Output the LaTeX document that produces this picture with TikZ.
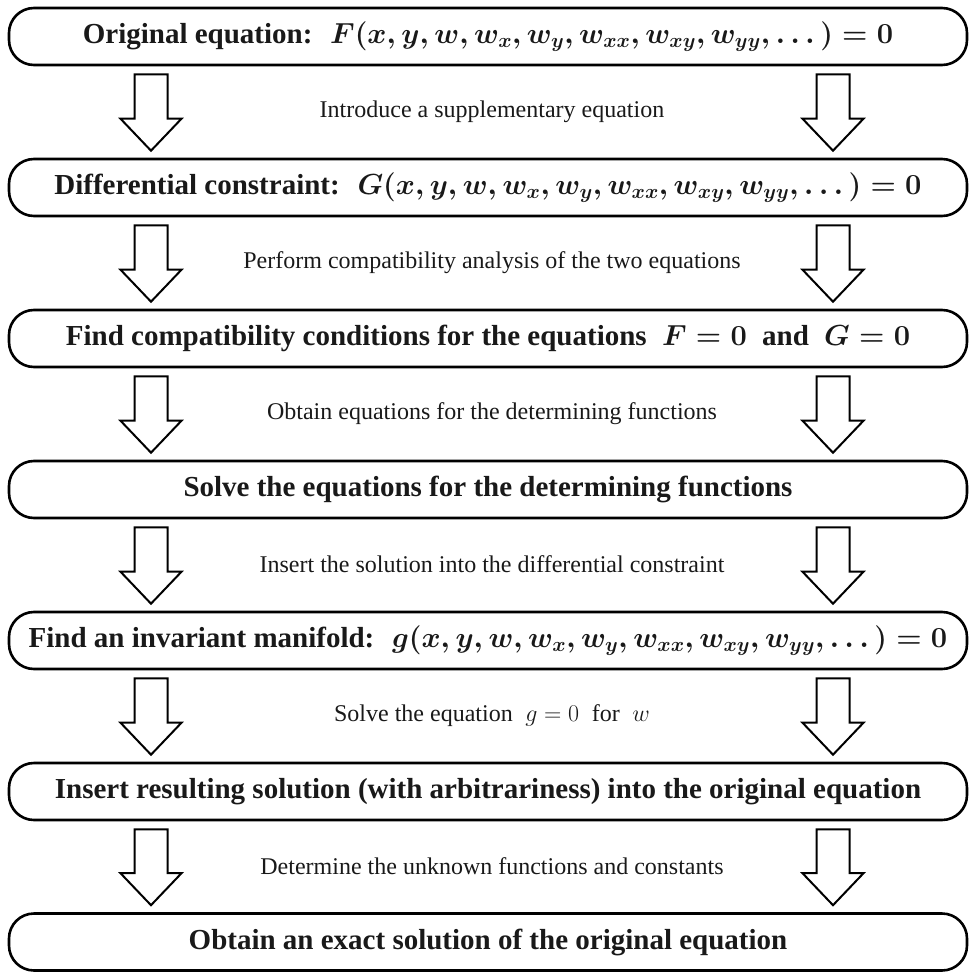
\RequirePackage{fix-cm}
\documentclass[tikz,border=0pt]{standalone}
\usepackage{fontspec}
\setmainfont{Liberation Serif}
\usepackage{amsmath}
\usepackage{bm}
\usetikzlibrary{calc}
\tikzset{
  stepbox/.style={draw, line width=2.6pt, rounded corners=25pt, minimum width=958pt, minimum height=57pt, inner sep=0pt,
    font=\fontsize{29}{34}\selectfont\bfseries\boldmath, text=black!90},
  steplabel/.style={inner sep=0pt, font=\fontsize{24}{28}\selectfont, text=black!90},
  blk/.style={draw, line width=2pt, fill=white, line join=miter}
}
\newcommand\blockarrow[3]{%
  \draw[blk] let \p1=(#2.south), \p2=(#3.north) in
    (#1pt-16.5pt,\y1-8pt) -- (#1pt+16.5pt,\y1-8pt) -- (#1pt+16.5pt,\y2+39pt) -- (#1pt+30.5pt,\y2+39pt)
    -- (#1pt,\y2+7pt) -- (#1pt-30.5pt,\y2+39pt) -- (#1pt-16.5pt,\y2+39pt) -- cycle;}
\begin{document}
\begin{tikzpicture}[x=1pt,y=-1pt]
\useasboundingbox (0,0) rectangle (970,973);
\node[stepbox] (b1) at (488,36.5) {Original equation:\; $F(x,y,w,w_x,w_y,w_{xx},w_{xy},w_{yy},\dots)=0$};
\node[stepbox] (b2) at (488,187.5) {Differential constraint:\; $G(x,y,w,w_x,w_y,w_{xx},w_{xy},w_{yy},\dots)=0$};
\node[stepbox] (b3) at (488,338.5) {Find compatibility conditions for the equations\; $F=0$\; and\; $G=0$};
\node[stepbox] (b4) at (488,489.5) {Solve the equations for the determining functions};
\node[stepbox] (b5) at (488,640.5) {Find an invariant manifold:\; $g(x,y,w,w_x,w_y,w_{xx},w_{xy},w_{yy},\dots)=0$};
\node[stepbox] (b6) at (488,791.5) {Insert resulting solution (with arbitrariness) into the original equation};
\node[stepbox] (b7) at (488,942) {Obtain an exact solution of the original equation};
\node[steplabel] (l1) at (492,111.5) {Introduce a supplementary equation};
\node[steplabel] (l2) at (492,262.5) {Perform compatibility analysis of the two equations};
\node[steplabel] (l3) at (492,413.5) {Obtain equations for the determining functions};
\node[steplabel] (l4) at (492,564.5) {Insert the solution into the differential constraint};
\node[steplabel] (l5) at (492,715.5) {Solve the equation\; $g=0$\; for\; $w$};
\node[steplabel] (l6) at (492,866.5) {Determine the unknown functions and constants};
\foreach \a/\b in {b1/b2,b2/b3,b3/b4,b4/b5,b5/b6,b6/b7}{
  \blockarrow{151}{\a}{\b}
  \blockarrow{833}{\a}{\b}
}
\end{tikzpicture}
\end{document}
